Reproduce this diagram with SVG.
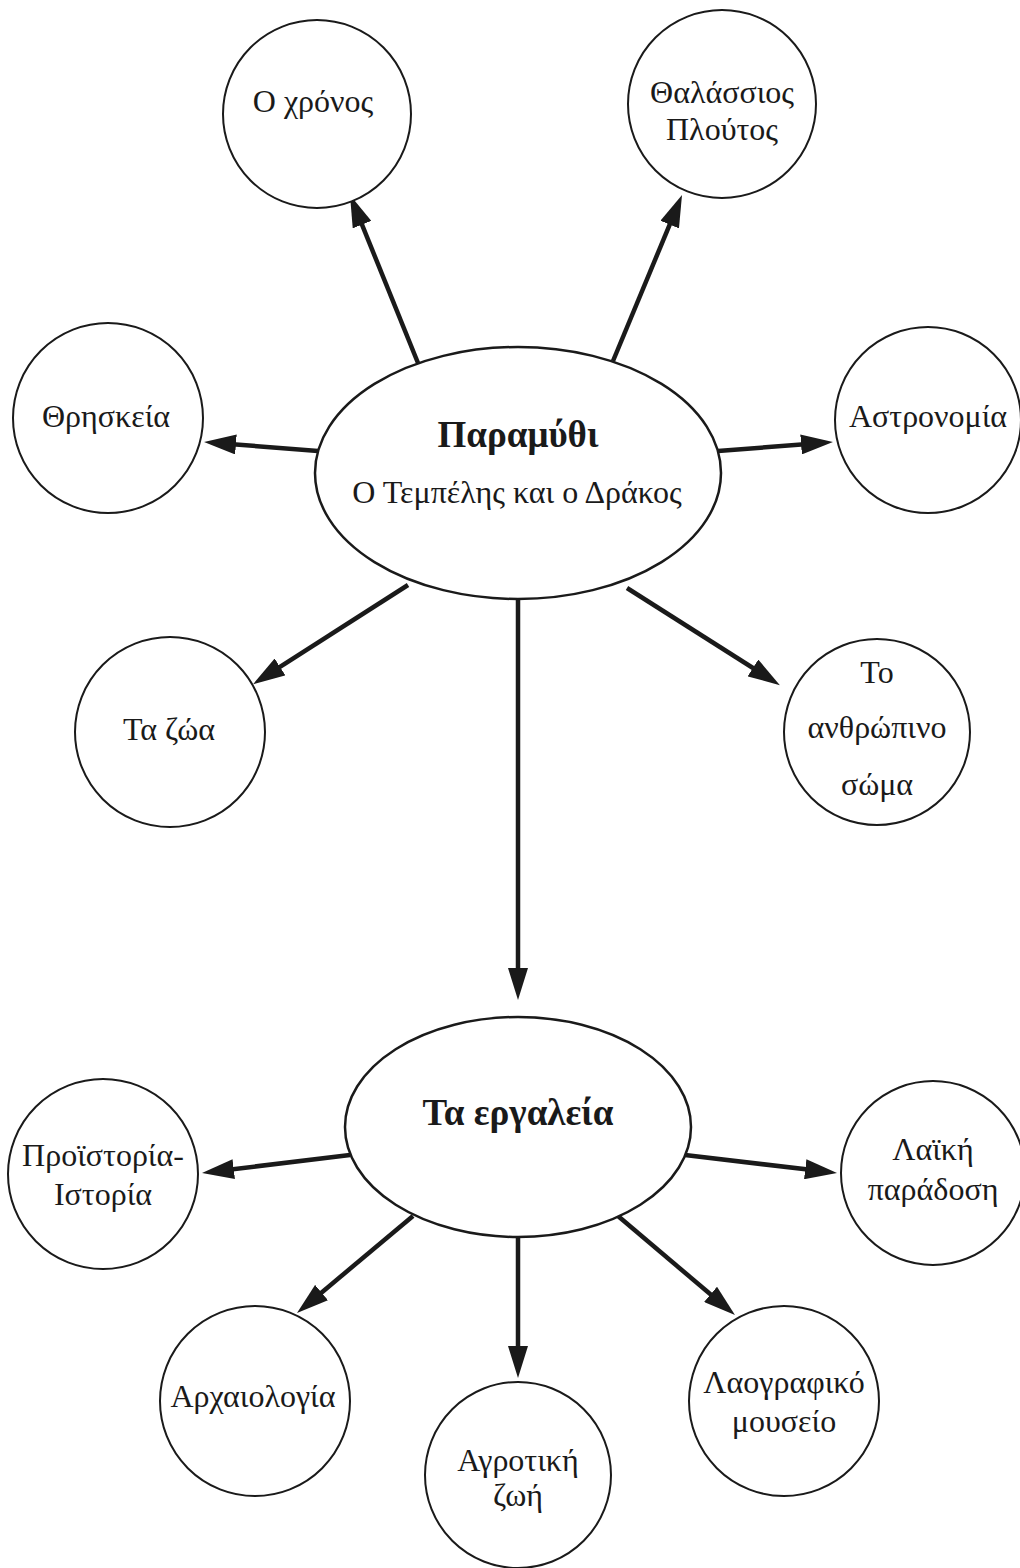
<svg xmlns="http://www.w3.org/2000/svg" width="1020" height="1568" viewBox="0 0 1020 1568">
<style>
  .node { fill: #ffffff; stroke: #1a1a1a; stroke-width: 2; }
  .main { fill: #ffffff; stroke: #1a1a1a; stroke-width: 2.5; }
  .lbl { font-family: "Liberation Serif", serif; font-size: 32px; fill: #1a1a1a; text-anchor: middle; }
  .title { font-family: "Liberation Serif", serif; font-size: 37px; font-weight: bold; fill: #1a1a1a; text-anchor: middle; }
  .edge { stroke: #1a1a1a; stroke-width: 4.5; fill: none; marker-end: url(#arrow); }
</style>
<defs>
  <marker id="arrow" markerUnits="userSpaceOnUse" markerWidth="32" markerHeight="20" refX="20" refY="10" orient="auto" viewBox="0 0 32 20">
    <path d="M0,0 L32,10 L0,20 Z" fill="#1a1a1a"/>
  </marker>
</defs>
<rect width="1020" height="1568" fill="#ffffff"/>
<g id="connectors">
  <line class="edge" x1="418" y1="363" x2="354.5" y2="206.1"/>
  <line class="edge" x1="613" y1="361" x2="677.4" y2="206.1"/>
  <line class="edge" x1="318" y1="451" x2="216" y2="442.9"/>
  <line class="edge" x1="718" y1="451" x2="821" y2="442.9"/>
  <line class="edge" x1="408" y1="585" x2="263.2" y2="677.7"/>
  <line class="edge" x1="627" y1="588" x2="769.8" y2="678.7"/>
  <line class="edge" x1="518" y1="599" x2="518" y2="988"/>
  <line class="edge" x1="350" y1="1155" x2="213.9" y2="1171.5"/>
  <line class="edge" x1="685" y1="1155" x2="825.1" y2="1171.6"/>
  <line class="edge" x1="413" y1="1216" x2="306.2" y2="1305.4"/>
  <line class="edge" x1="518" y1="1237" x2="518" y2="1366"/>
  <line class="edge" x1="618" y1="1216" x2="725.8" y2="1307.3"/>
</g>
<g id="n-paramythi">
  <ellipse class="main" cx="518" cy="473" rx="203" ry="126"/>
  <text class="title" x="518" y="447">Παραμύθι</text>
  <text class="lbl" x="517" y="503">Ο Τεμπέλης και ο Δράκος</text>
</g>
<g id="n-chronos">
  <circle class="node" cx="317" cy="114" r="94"/>
  <text class="lbl" x="313" y="112">Ο χρόνος</text>
</g>
<g id="n-thalassios">
  <circle class="node" cx="722" cy="104" r="94"/>
  <text class="lbl" x="722" y="103">Θαλάσσιος</text>
  <text class="lbl" x="722" y="140">Πλούτος</text>
</g>
<g id="n-thriskeia">
  <circle class="node" cx="108" cy="418" r="95"/>
  <text class="lbl" x="106" y="427">Θρησκεία</text>
</g>
<g id="n-astronomia">
  <circle class="node" cx="928" cy="420" r="93"/>
  <text class="lbl" x="928" y="427">Αστρονομία</text>
</g>
<g id="n-zoa">
  <circle class="node" cx="170" cy="732" r="95"/>
  <text class="lbl" x="169" y="740">Τα ζώα</text>
</g>
<g id="n-anthropino">
  <circle class="node" cx="877" cy="732" r="93"/>
  <text class="lbl" x="877" y="683">Το</text>
  <text class="lbl" x="877" y="738">ανθρώπινο</text>
  <text class="lbl" x="877" y="795">σώμα</text>
</g>
<g id="n-ergaleia">
  <ellipse class="main" cx="518" cy="1127" rx="173" ry="110"/>
  <text class="title" x="518" y="1125">Τα εργαλεία</text>
</g>
<g id="n-proistoria">
  <circle class="node" cx="103" cy="1174" r="95"/>
  <text class="lbl" x="103" y="1166">Προϊστορία-</text>
  <text class="lbl" x="103" y="1205">Ιστορία</text>
</g>
<g id="n-laiki">
  <circle class="node" cx="933" cy="1173" r="92"/>
  <text class="lbl" x="933" y="1160">Λαϊκή</text>
  <text class="lbl" x="933" y="1200">παράδοση</text>
</g>
<g id="n-archaiologia">
  <circle class="node" cx="255" cy="1401" r="95"/>
  <text class="lbl" x="253" y="1407">Αρχαιολογία</text>
</g>
<g id="n-agrotiki">
  <circle class="node" cx="518" cy="1475" r="93"/>
  <text class="lbl" x="518" y="1471">Αγροτική</text>
  <text class="lbl" x="518" y="1506">ζωή</text>
</g>
<g id="n-laografiko">
  <circle class="node" cx="784" cy="1401" r="95"/>
  <text class="lbl" x="784" y="1393">Λαογραφικό</text>
  <text class="lbl" x="784" y="1432">μουσείο</text>
</g>
</svg>
